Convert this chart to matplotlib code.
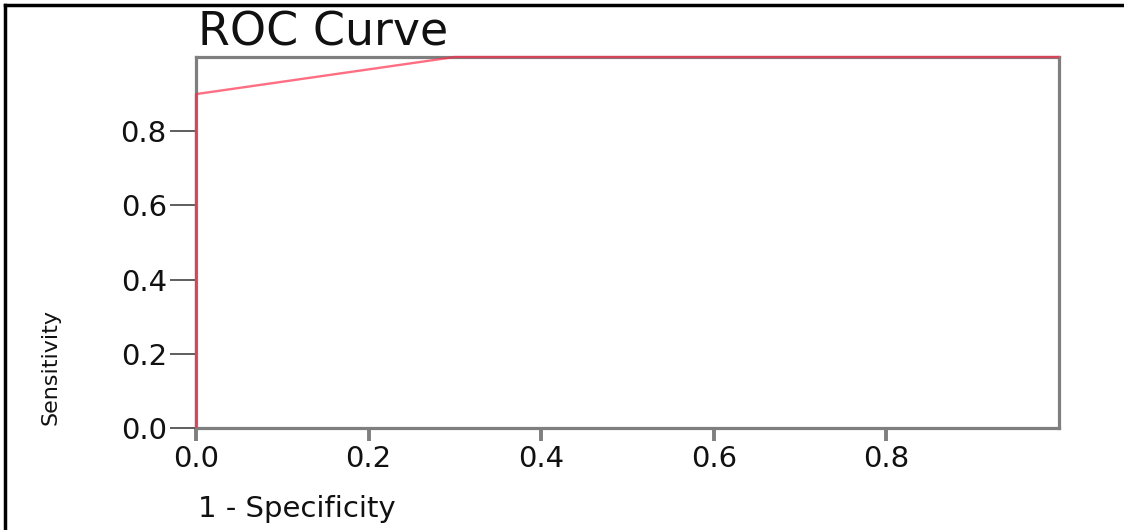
import matplotlib
matplotlib.use('Agg')
import matplotlib.pyplot as plt
from matplotlib.lines import Line2D

# ROC points (1 - specificity, sensitivity)
fpr = [0.0, 0.0, 0.3, 1.0]
tpr = [0.0, 0.9, 1.0, 1.0]

x_ticks = [0.0, 0.2, 0.4, 0.6, 0.8]
y_ticks = [0.0, 0.2, 0.4, 0.6, 0.8]
tick_labels = ['0.0', '0.2', '0.4', '0.6', '0.8']

W, H = 1124, 530
fig = plt.figure(figsize=(W / 100, H / 100), dpi=100)
ax = fig.add_axes([196 / W, 1 - 428 / H, (1059 - 196) / W, (428 - 57) / H])

ax.plot(fpr, tpr, color='#ff2a48', lw=1.7, alpha=0.68, clip_on=False, zorder=5,
        solid_capstyle='butt')

ax.set_xlim(0, 1)
ax.set_ylim(0, 1)
ax.set_xticks(x_ticks)
ax.set_xticklabels(tick_labels)
ax.set_yticks(y_ticks)
ax.set_yticklabels(tick_labels)

for s in ax.spines.values():
    s.set_color('#7f7f7f')
    s.set_linewidth(2.3)

ax.tick_params(axis='x', length=9.5, width=2.8, color='#7f7f7f', pad=3,
               labelsize=21, labelcolor='#111111')
ax.tick_params(axis='y', length=19, width=1.1, color='#333333', pad=2,
               labelsize=21, labelcolor='#111111')

fig.text(198 / W, 1 - 45 / H, 'ROC Curve', fontsize=33, color='#111111',
         ha='left', va='baseline')
fig.text(198 / W, 1 - 517 / H, '1 - Specificity', fontsize=21, color='#111111',
         ha='left', va='baseline')
fig.text(50 / W, 1 - 425 / H, 'Sensitivity', fontsize=16, color='#111111',
         rotation=90, ha='center', va='bottom')

# outer frame (top and left edges only)
fig.add_artist(Line2D([5 / W, 1.0], [1 - 5 / H, 1 - 5 / H], color='black', lw=2.5,
                      transform=fig.transFigure))
fig.add_artist(Line2D([5 / W, 5 / W], [0.0, 1 - 5 / H], color='black', lw=2.5,
                      transform=fig.transFigure))

fig.savefig('out.png', dpi=100)
